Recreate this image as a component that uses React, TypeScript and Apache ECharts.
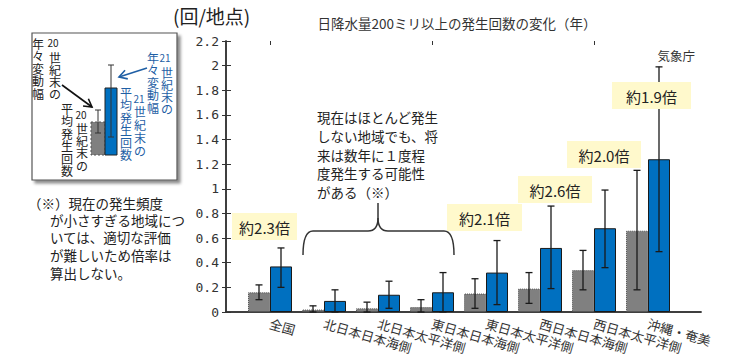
import React, { useEffect, useRef } from "react";
import * as echarts from "echarts";

// ---- data ----
const categories = [
  "全国",
  "北日本日本海側",
  "北日本太平洋側",
  "東日本日本海側",
  "東日本太平洋側",
  "西日本日本海側",
  "西日本太平洋側",
  "沖縄・奄美",
];
// 20世紀末 (gray)
const c20Mean = [0.16, 0.02, 0.03, 0.04, 0.15, 0.19, 0.34, 0.66];
const c20Low = [0.1, 0.0, 0.0, 0.0, 0.03, 0.07, 0.18, 0.18];
const c20High = [0.22, 0.05, 0.08, 0.1, 0.27, 0.32, 0.5, 1.15];
// 21世紀末 (blue)
const c21Mean = [0.37, 0.09, 0.14, 0.16, 0.32, 0.52, 0.68, 1.24];
const c21Low = [0.2, 0.0, 0.03, 0.0, 0.06, 0.19, 0.36, 0.49];
const c21High = [0.52, 0.18, 0.25, 0.32, 0.58, 0.86, 0.99, 1.99];

const yMin = 0;
const yMax = 2.2;
const yInterval = 0.2;

const ratioLabels = ["約2.3倍", "約2.1倍", "約2.6倍", "約2.0倍", "約1.9倍"];
const titleText = "日降水量200ミリ以上の発生回数の変化（年）";
const unitText = "(回/地点)";
const sourceText = "気象庁";
const braceNote = [
  "現在はほとんど発生",
  "しない地域でも、将",
  "来は数年に１度程",
  "度発生する可能性",
  "がある（※）",
];
const footNote = [
  "（※）現在の発生頻度",
  "が小さすぎる地域につ",
  "いては、適切な評価",
  "が難しいため倍率は",
  "算出しない。",
];

const CJK = '"Noto Sans CJK JP", "Noto Sans", sans-serif';
const BLUE = "#0070C0";
const GRAY = "#808080";
const TXT = "#222";
const BLUE_TXT = "#1F5FA5";

function txt(x: number, y: number, text: string, size: number, opts: any = {}) {
  const align = opts.align || "left";
  const va = opts.va || "middle";
  return {
    type: "text",
    x,
    y,
    z: 101,
    style: {
      text,
      fill: opts.color || TXT,
      font: `${opts.weight || "normal"} ${size}px ${opts.family || CJK}`,
      align,
      textAlign: align,
      verticalAlign: va,
      textVerticalAlign: va,
      lineHeight: opts.lineHeight,
    },
  };
}

// vertical (tategaki) column as one multi-line text
function vcol(x: number, yFirst: number, chars: string, size: number, spacing: number, color: string) {
  return txt(x, yFirst - spacing / 2, Array.from(chars).join("\n"), size, {
    align: "center",
    va: "top",
    color,
    lineHeight: spacing,
  });
}

function box(x: number, y: number, w: number, h: number, label: string) {
  return [
    { type: "rect", z: 100, shape: { x, y, width: w, height: h }, style: { fill: "#FFF9CC" } },
    txt(x + w / 2, y + h / 2 + 0.5, label, 15, { align: "center" }),
  ];
}

function arrow(x1: number, y1: number, x2: number, y2: number, color: string) {
  const dx = x2 - x1;
  const dy = y2 - y1;
  const len = Math.sqrt(dx * dx + dy * dy);
  const ux = dx / len;
  const uy = dy / len;
  const hl = 9;
  const a = Math.PI / 6;
  const p1 = [x2 - hl * (ux * Math.cos(a) - uy * Math.sin(a)), y2 - hl * (uy * Math.cos(a) + ux * Math.sin(a))];
  const p2 = [x2 - hl * (ux * Math.cos(a) + uy * Math.sin(a)), y2 - hl * (uy * Math.cos(a) - ux * Math.sin(a))];
  const style = { stroke: color, lineWidth: 1.6, fill: "none" };
  return [
    { type: "line", z: 101, shape: { x1, y1, x2, y2 }, style },
    { type: "polyline", z: 101, shape: { points: [p1, [x2, y2], p2] }, style },
  ];
}

function errBar(x: number, yTop: number, yBot: number, color: string) {
  const style = { stroke: color, lineWidth: 1 };
  return [
    { type: "line", z: 102, shape: { x1: x, y1: yTop, x2: x, y2: yBot }, style },
    { type: "line", z: 102, shape: { x1: x - 3, y1: yTop, x2: x + 3, y2: yTop }, style },
    { type: "line", z: 102, shape: { x1: x - 3, y1: yBot, x2: x + 3, y2: yBot }, style },
  ];
}

const errItem = (offset: number) => (_params: any, api: any) => {
  const i = api.value(0);
  const lo = api.coord([i, api.value(1)]);
  const hi = api.coord([i, api.value(2)]);
  const x = lo[0] + offset;
  const cap = 3.5;
  const style = { stroke: "#1a1a1a", lineWidth: 1.3 };
  return {
    type: "group",
    children: [
      { type: "line", shape: { x1: x, y1: lo[1], x2: x, y2: hi[1] }, style },
      { type: "line", shape: { x1: x - cap, y1: hi[1], x2: x + cap, y2: hi[1] }, style },
      { type: "line", shape: { x1: x - cap, y1: lo[1], x2: x + cap, y2: lo[1] }, style },
    ],
  };
};

export default function App() {
  const ref = useRef<HTMLDivElement>(null);

  useEffect(() => {
    if (!ref.current) return;
    const chart = echarts.init(ref.current, undefined, { renderer: "svg" });

    const frameLine = { show: true, lineStyle: { color: "#333", width: 1.5 } };
    const BAR_W = 22;

    const graphics: any[] = [
      // titles
      txt(173, 15, unitText, 19),
      txt(457, 23, titleText, 13.5, { align: "center", color: "#333" }),
      txt(695, 55, sourceText, 12.5, { align: "right", color: "#333" }),
      // inset legend box
      {
        type: "rect",
        z: 99,
        shape: { x: 32, y: 33, width: 145, height: 147 },
        style: {
          fill: "#fff",
          stroke: "#555",
          lineWidth: 1.2,
          shadowBlur: 3,
          shadowOffsetX: 3,
          shadowOffsetY: 3,
          shadowColor: "rgba(0,0,0,0.45)",
        },
      },
      {
        type: "rect",
        z: 100,
        shape: { x: 91, y: 122, width: 14, height: 33 },
        style: { fill: GRAY, stroke: "#555", lineWidth: 1, lineDash: [2, 2] },
      },
      {
        type: "rect",
        z: 100,
        shape: { x: 105, y: 88, width: 12, height: 67 },
        style: { fill: BLUE, stroke: "#222", lineWidth: 1 },
      },
      ...errBar(98, 110, 133, "#333"),
      ...errBar(111, 65, 137, "#333"),
      // inset black texts
      vcol(38, 43, "年々変動幅", 12, 12.5, TXT),
      txt(53, 42, "20", 10, { align: "center" }),
      vcol(55, 57, "世紀末の", 12, 12.2, TXT),
      vcol(67, 108, "平均発生回数", 12, 12.6, TXT),
      txt(81, 114, "20", 10, { align: "center" }),
      vcol(82, 128, "世紀末の", 12, 12.4, TXT),
      // inset blue texts
      vcol(153, 57, "年々変動幅", 12, 12.5, BLUE_TXT),
      txt(165, 57, "21", 10, { align: "center", color: BLUE_TXT }),
      vcol(167, 72, "世紀末の", 12, 12.2, BLUE_TXT),
      vcol(126, 92, "平均発生回数", 12, 12.6, BLUE_TXT),
      txt(139, 98, "21", 10, { align: "center", color: BLUE_TXT }),
      vcol(140, 111, "世紀末の", 12, 13, BLUE_TXT),
      ...arrow(62, 85, 92, 107, "#111"),
      ...arrow(147, 68, 119, 77, BLUE_TXT),
      // footnote
      txt(28, 203, footNote[0], 13.5),
      txt(50, 220, footNote[1], 13.5),
      txt(50, 237, footNote[2], 13.5),
      txt(50, 255, footNote[3], 13.5),
      txt(50, 273, footNote[4], 13.5),
      // brace note
      txt(317, 108, braceNote.join("\n"), 13.5, { va: "top", lineHeight: 18.7 }),
      // brace
      ...[
        { type: "bezierCurve", shape: { x1: 303, y1: 255, x2: 313, y2: 231, cpx1: 303, cpy1: 231 } },
        { type: "line", shape: { x1: 313, y1: 231, x2: 368, y2: 231 } },
        { type: "bezierCurve", shape: { x1: 368, y1: 231, x2: 378, y2: 218, cpx1: 378, cpy1: 231 } },
        { type: "line", shape: { x1: 378, y1: 218, x2: 378, y2: 203 } },
        { type: "bezierCurve", shape: { x1: 388, y1: 231, x2: 378, y2: 218, cpx1: 378, cpy1: 231 } },
        { type: "line", shape: { x1: 388, y1: 231, x2: 444, y2: 231 } },
        { type: "bezierCurve", shape: { x1: 444, y1: 231, x2: 454, y2: 255, cpx1: 454, cpy1: 231 } },
      ].map((e) => ({ ...e, z: 101, style: { stroke: "#333", lineWidth: 1.5, fill: "none" } })),
      // ratio boxes
      ...box(232, 213, 65, 27, ratioLabels[0]),
      ...box(447, 204, 75, 27, ratioLabels[1]),
      ...box(518, 176, 74, 27, ratioLabels[2]),
      ...box(567, 141, 74, 27, ratioLabels[3]),
      ...box(612, 82, 79, 27, ratioLabels[4]),
    ];

    const option: any = {
      animation: false,
      backgroundColor: "#fff",
      grid: [
        { left: 226, right: 29, top: 41, bottom: 50 },
        { left: 243, width: 432, top: 41, bottom: 50 },
      ],
      xAxis: [
        {
          gridIndex: 0,
          type: "value",
          min: 0,
          max: 1,
          position: "bottom",
          axisLine: frameLine,
          axisTick: { show: false },
          axisLabel: { show: false },
          splitLine: { show: false },
        },
        {
          gridIndex: 0,
          type: "value",
          min: 0,
          max: 1,
          position: "top",
          axisLine: frameLine,
          axisTick: { show: false },
          axisLabel: { show: false },
          splitLine: { show: false },
        },
        {
          gridIndex: 1,
          type: "category",
          data: categories,
          position: "bottom",
          axisLine: { show: false },
          axisTick: { show: false },
          axisLabel: {
            rotate: -16,
            margin: 11,
            interval: 0,
            fontSize: 13,
            color: "#333",
            fontFamily: CJK,
          },
        },
        {
          gridIndex: 1,
          type: "category",
          data: categories,
          position: "top",
          axisLine: { show: false },
          axisTick: { show: true, inside: true, alignWithLabel: true, length: 4, lineStyle: { color: "#333" } },
          axisLabel: { show: false },
        },
      ],
      yAxis: [
        {
          gridIndex: 0,
          type: "value",
          min: yMin,
          max: yMax,
          interval: yInterval,
          position: "left",
          axisLine: frameLine,
          axisTick: { show: true, inside: true, length: 5, lineStyle: { color: "#333" } },
          splitLine: { show: false },
          axisLabel: {
            margin: 7,
            fontSize: 13,
            color: "#333",
            fontFamily: '"DejaVu Sans Mono", monospace',
            formatter: (v: number) => String(Math.round(v * 10) / 10),
          },
        },
        {
          gridIndex: 0,
          type: "value",
          min: yMin,
          max: yMax,
          interval: yInterval,
          position: "right",
          axisLine: frameLine,
          axisTick: { show: true, inside: true, length: 4, lineStyle: { color: "#333" } },
          splitLine: { show: false },
          axisLabel: { show: false },
        },
        {
          gridIndex: 1,
          type: "value",
          min: yMin,
          max: yMax,
          interval: yInterval,
          show: false,
          splitLine: { show: false },
        },
      ],
      series: [
        {
          name: "20世紀末",
          type: "bar",
          xAxisIndex: 2,
          yAxisIndex: 2,
          data: c20Mean,
          barWidth: BAR_W,
          barGap: "0%",
          itemStyle: { color: GRAY, borderColor: "#505050", borderWidth: 1, borderType: "dotted" },
        },
        {
          name: "21世紀末",
          type: "bar",
          xAxisIndex: 2,
          yAxisIndex: 2,
          data: c21Mean,
          barWidth: BAR_W,
          barGap: "0%",
          itemStyle: { color: BLUE, borderColor: "#1a1a1a", borderWidth: 1 },
        },
        {
          type: "custom",
          xAxisIndex: 2,
          yAxisIndex: 2,
          z: 5,
          renderItem: errItem(-BAR_W / 2),
          encode: { x: 0, y: [1, 2] },
          data: categories.map((_, i) => [i, c20Low[i], c20High[i]]),
        },
        {
          type: "custom",
          xAxisIndex: 2,
          yAxisIndex: 2,
          z: 5,
          renderItem: errItem(BAR_W / 2),
          encode: { x: 0, y: [1, 2] },
          data: categories.map((_, i) => [i, c21Low[i], c21High[i]]),
        },
      ],
      graphic: { elements: graphics },
    };

    chart.setOption(option);
    return () => chart.dispose();
  }, []);

  return (
    <div
      ref={ref}
      style={{ width: 730, height: 362, position: "absolute", left: 0, top: 0, background: "#fff" }}
    />
  );
}
